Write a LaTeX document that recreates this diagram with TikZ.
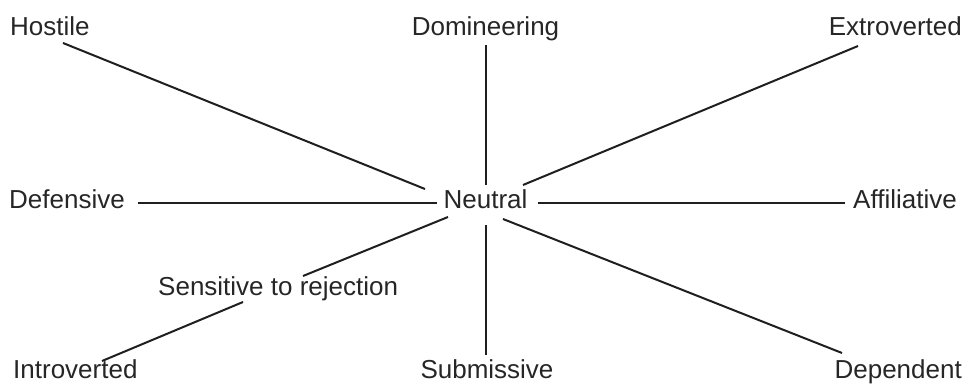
\documentclass[tikz,border=0pt]{standalone}
\usepackage{fontspec}
\setmainfont{Liberation Sans}
\begin{document}
\begin{tikzpicture}[x=1pt,y=-1pt,
  lbl/.style={inner sep=0pt,font=\fontsize{26}{30}\selectfont,text=black!85},
  conn/.style={line width=2pt,black!88}]
\useasboundingbox (0,0) rectangle (968,385);
\node[lbl,anchor=base west] (hostile) at (10,36) {Hostile};
\node[lbl,anchor=base] (domin) at (485.5,36) {Domineering};
\node[lbl,anchor=base east] (extro) at (962,36) {Extroverted};
\node[lbl,anchor=base east] (defen) at (125,208) {Defensive};
\node[lbl,anchor=base] (neutral) at (485.5,208) {Neutral};
\node[lbl,anchor=base west] (affil) at (853,208) {Affiliative};
\node[lbl,anchor=base west] (sensi) at (158,295) {Sensitive to rejection};
\node[lbl,anchor=base west] (intro) at (13,378) {Introverted};
\node[lbl,anchor=base] (submi) at (487,378) {Submissive};
\node[lbl,anchor=base east] (depen) at (962,378) {Dependent};

\draw[conn] ([shift={(53,7)}]hostile.base west) -- ([shift={(-60.5,-19)}]neutral.base);
\draw[conn] ([shift={(0.5,9)}]domin.base) -- ([shift={(0.5,-23)}]neutral.base);
\draw[conn] ([shift={(-104,10)}]extro.base east) -- ([shift={(37.5,-23)}]neutral.base);
\draw[conn] ([shift={(13,-5)}]defen.base east) -- ([shift={(-48.5,-5)}]neutral.base);
\draw[conn] ([shift={(-8,-5)}]affil.base west) -- ([shift={(52.5,-5)}]neutral.base);
\draw[conn] ([shift={(145,-19)}]sensi.base west) -- ([shift={(-37.5,9)}]neutral.base);
\draw[conn] ([shift={(85,7)}]sensi.base west) -- ([shift={(89,-17)}]intro.base west);
\draw[conn] ([shift={(-1,-23)}]submi.base) -- ([shift={(0.5,17)}]neutral.base);
\draw[conn] ([shift={(-120,-25)}]depen.base east) -- ([shift={(17.5,11)}]neutral.base);
\end{tikzpicture}
\end{document}
